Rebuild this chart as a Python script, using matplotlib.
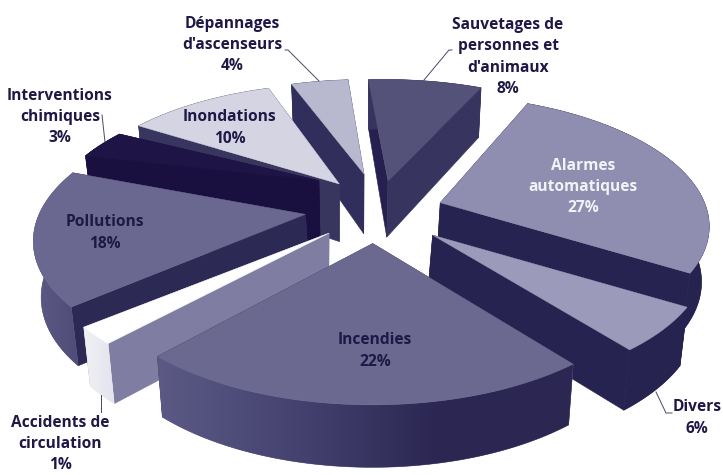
import numpy as np
import matplotlib
matplotlib.use('Agg')
import matplotlib.pyplot as plt
from matplotlib.colors import LinearSegmentedColormap
from matplotlib.patches import Polygon

# parts du camembert, dans le sens horaire depuis le haut
categories = ['Sauvetages', 'Alarmes', 'Divers', 'Incendies', 'Accidents',
              'Pollutions', 'Interventions', 'Inondations', 'Depannages']
shares = [7.8, 26.7, 5.6, 23.1, 2.2, 16.9, 3.6, 10.2, 3.9]
labels = ['Sauvetages de\npersonnes et\nd\'animaux\n8%',
          'Alarmes\nautomatiques\n27%',
          'Divers\n6%',
          'Incendies\n22%',
          'Accidents de\ncirculation\n1%',
          'Pollutions\n18%',
          'Interventions\nchimiques\n3%',
          'Inondations\n10%',
          'Dépannages\nd\'ascenseurs\n4%']
label_pos = [(508, 57), (583, 187), (697, 418), (375, 351), (60, 444),
             (105, 233), (60, 117), (230, 128), (232, 45)]
label_col = ['#1d1845', '#f2f2f7', '#1d1845', '#1d1845', '#1d1845',
             '#1d1845', '#1d1845', '#1d1845', '#1d1845']

top_col = ['#55527a', '#908eb0', '#9c9abb', '#6b6990', '#ffffff',
           '#6a6890', '#1e1546', '#d4d4e3', '#b8b8cf']
cut_a = ['#262050', '#272350', '#272350', '#3a3763', '#7f7da1',
         '#2d2955', '#1a1040', '#38355f', '#312e5c']
cut_b = ['#37345f', '#272350', '#272350', '#3a3763', '#7f7da1',
         '#2d2955', '#1a1040', '#38355f', '#312e5c']
# dégradé de la paroi, de gauche à droite
wall_stops = [['#37345f', '#37345f'], ['#272350', '#272350'], ['#272350', '#272350'],
              ['#5c5a85', '#454270', '#2b2752', '#2b2752'], ['#f0f0f5', '#e4e4ee'],
              ['#5c5a85', '#4f4d78'], ['#1a1040', '#1a1040'], ['#38355f', '#38355f'],
              ['#312e5c', '#312e5c']]
draw_order = [0, 8, 7, 6, 1, 5, 2, 4, 3]

start_deg = -4.0
R = 272.0
explode = [65, 65, 65, 65, 65, 65, 65, 65, 65]
# petit recalage du sommet de chaque secteur (pixels)
apex_shift = [(2, -5), (4, -3), (7, 0), (0, -3), (3, -3), (-5, -5), (0, -20), (2, -7), (1, -12)]
H = 55.0
cx, cy = 375.0, 215.0
squash = 0.47
persp = 0.134
shrink = 0.977

leaders = [[(285, 50), (288, 50), (319, 81)],
           [(452, 50), (449, 50), (424, 80)],
           [(102, 115), (105, 142)],
           [(101, 395), (101, 412)],
           [(656, 392), (666, 413), (672, 413)]]


def project(X, Y, bottom=False):
    s = 1.0 / (1.0 + persp * Y / R)
    sx = cx + X * s
    sy = cy - Y * s * squash
    if bottom:
        sx = cx + (sx - cx) * shrink
        sy = sy + H * s ** 0.7
    return np.column_stack([sx, sy])


fig = plt.figure(figsize=(7.23, 4.75), dpi=100)
ax = fig.add_axes([0, 0, 1, 1])
ax.set_xlim(0, 723)
ax.set_ylim(475, 0)
ax.set_autoscale_on(False)
ax.axis('off')

edges = start_deg + np.concatenate([[0], np.cumsum(shares)]) / sum(shares) * 360

z = 1
for i in draw_order:
    a0, a1 = np.radians(edges[i]), np.radians(edges[i + 1])
    mid = (a0 + a1) / 2
    ox, oy = explode[i] * np.sin(mid), explode[i] * np.cos(mid)
    th = np.linspace(a0, a1, 60)
    X = ox + R * np.sin(th)
    Y = oy + R * np.cos(th)

    ap_t = project(np.array([ox]), np.array([oy])) + np.array(apex_shift[i])
    ap_b = project(np.array([ox]), np.array([oy]), True) + np.array(apex_shift[i]) * 0.5
    arc_t = project(X, Y)
    arc_b = project(X, Y, True)

    # faces de coupe, la plus lointaine d'abord
    faces = [(arc_t[0], arc_b[0], Y[0], cut_a[i]), (arc_t[-1], arc_b[-1], Y[-1], cut_b[i])]
    faces.sort(key=lambda f: -f[2])
    for pt, pb, _, col in faces:
        ax.add_patch(Polygon([ap_t[0], pt, pb, ap_b[0]], closed=True,
                             fc=col, ec=col, lw=0.4, zorder=z))
        z += 1

    # paroi extérieure : image en dégradé découpée sur la paroi
    wall = Polygon(np.vstack([arc_t, arc_b[::-1]]), closed=True,
                   fc=wall_stops[i][0], ec=wall_stops[i][0], lw=0.4, zorder=z)
    ax.add_patch(wall)
    z += 1
    xmin, xmax = arc_b[:, 0].min() - 6, arc_t[:, 0].max() + 6
    cmap = LinearSegmentedColormap.from_list('w%d' % i, wall_stops[i])
    im = ax.imshow(np.linspace(0, 1, 256).reshape(1, -1), extent=[xmin, xmax, 475, 0],
                   aspect='auto', cmap=cmap, zorder=z)
    im.set_clip_path(wall)
    z += 1

    ax.add_patch(Polygon(np.vstack([ap_t, arc_t]), closed=True,
                         fc=top_col[i], ec=top_col[i], lw=0.3, zorder=z))
    z += 1

for pts in leaders:
    xs, ys = zip(*pts)
    ax.plot(xs, ys, color='#4a4868', lw=0.7, zorder=z)

for txt, (x, y), c in zip(labels, label_pos, label_col):
    ax.text(x, y, txt, ha='center', va='center', fontsize=11.2, color=c,
            family='Open Sans', fontweight='bold', linespacing=1.45, zorder=z + 1)

fig.savefig('out.png', dpi=100)
